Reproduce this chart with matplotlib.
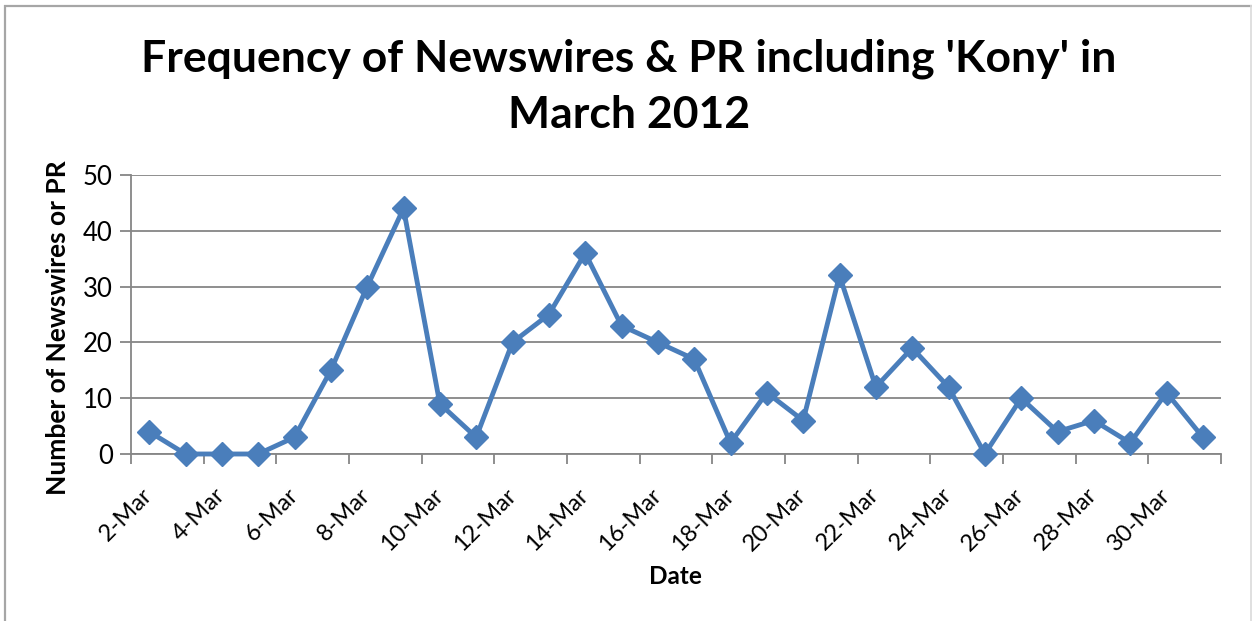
import matplotlib
matplotlib.use("Agg")
import matplotlib.pyplot as plt
from matplotlib.lines import Line2D

# Daily counts, 2 March to 31 March 2012
days = list(range(2, 32))
counts = [4, 0, 0, 0, 3, 15, 30, 44, 9, 3, 20, 25, 36, 23, 20, 17, 2, 11, 6,
          32, 12, 19, 12, 0, 10, 4, 6, 2, 11, 3]
label_days = list(range(2, 31, 2))
tick_labels = [f"{d}-Mar" for d in label_days]
y_ticks = [0, 10, 20, 30, 40, 50]

title = "Frequency of Newswires & PR including 'Kony' in\nMarch 2012"
x_title = "Date"
y_title = "Number of Newswires or PR"

plt.rcParams['font.family'] = ['Lato', 'DejaVu Sans']

W, H = 1252, 621
fig = plt.figure(figsize=(W / 100, H / 100), dpi=100)
fig.patch.set_facecolor("white")

# chart frame (top and left edges darker, right edge faint)
def px_line(xs, ys, color, lw):
    fig.add_artist(Line2D([x / W for x in xs], [1 - y / H for y in ys],
                          transform=fig.transFigure, color=color,
                          linewidth=lw, solid_capstyle="butt"))

px_line([4, 1252], [5.5, 5.5], "#A6A6A6", 1.6)
px_line([5, 5], [5, 621], "#A6A6A6", 1.6)
px_line([1251, 1251], [5, 621], "#DADADA", 1.2)

ax = fig.add_axes([131 / W, 1 - 454 / H, (1221 - 131) / W, (454 - 175) / H])

grid_color = "#868686"
line_color = "#4A7EBB"

ax.plot(days, counts, color=line_color, linewidth=3.5, marker="D",
        markersize=12.5, markerfacecolor=line_color,
        markeredgecolor=line_color, clip_on=False, zorder=3)

ax.set_xlim(1.5, 31.5)
ax.set_ylim(0, 50)
ax.set_yticks(y_ticks)
ax.yaxis.grid(True, color=grid_color, linewidth=1.3)
ax.set_axisbelow(True)

# tick marks between days, labels on even days
ax.set_xticks([d - 0.5 for d in range(2, 33, 2)])
ax.set_xticklabels([])
ax.set_xticks(label_days, minor=True)
ax.set_xticklabels(tick_labels, minor=True, rotation=45, ha="right",
                   va="center", rotation_mode="anchor", fontsize=17)
ax.tick_params(axis="x", which="minor", length=0, pad=27)
ax.tick_params(axis="x", which="major", length=7, width=1.3, color=grid_color)
ax.tick_params(axis="y", length=8, width=1.3, color=grid_color,
               labelsize=18.5, pad=5)

for side in ("top", "right"):
    ax.spines[side].set_visible(False)
for side in ("left", "bottom"):
    ax.spines[side].set_color(grid_color)
    ax.spines[side].set_linewidth(1.3)

fig.text(629 / W, 1 - 87 / H, title, ha="center", va="center",
         fontsize=32, fontweight="bold", linespacing=1.5)
fig.text(675 / W, 1 - 576 / H, x_title, ha="center", va="center",
         fontsize=17.5, fontweight="bold")
fig.text(58 / W, 1 - 328 / H, y_title, ha="center", va="center",
         rotation=90, fontsize=19, fontweight="bold")

fig.savefig("out.png", dpi=100)
